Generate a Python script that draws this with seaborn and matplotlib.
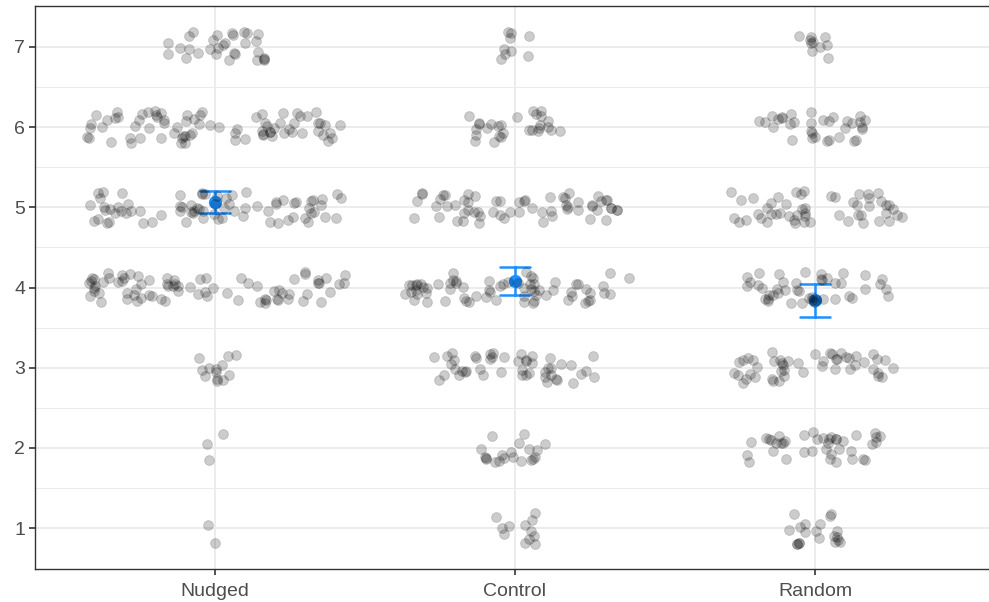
import numpy as np
import pandas as pd
import matplotlib
matplotlib.use("Agg")
import matplotlib.pyplot as plt
import seaborn as sns

# Response counts on the 1-7 scale, one list per condition (index 0 -> rating 1)
groups = ["Nudged", "Control", "Random"]
levels = [1, 2, 3, 4, 5, 6, 7]
nudged_counts = [2, 3, 13, 76, 75, 78, 30]
control_counts = [12, 20, 48, 68, 60, 28, 9]
random_counts = [20, 40, 48, 44, 52, 33, 10]

counts = {"Nudged": nudged_counts, "Control": control_counts, "Random": random_counts}

# One row per response
rows = []
for g in groups:
    for lv, n in zip(levels, counts[g]):
        rows += [(g, lv)] * n
df = pd.DataFrame(rows, columns=["group", "response"])

# Jitter for display only; horizontal spread grows with the cell size
rng = np.random.default_rng(11)
xpos, ypos = [], []
for gi, g in enumerate(groups):
    for lv, n in zip(levels, counts[g]):
        half_w = min(max(0.0057 * n, 0.03), 0.44)
        xpos.extend(gi + rng.uniform(-half_w, half_w, n))
        ypos.extend(lv + rng.uniform(-0.2, 0.2, n))
df["xpos"] = xpos
df["ypos"] = ypos

sns.set_style("white")
plt.rcParams["font.family"] = ["Liberation Sans", "DejaVu Sans"]

fig = plt.figure(figsize=(9.89, 6.02), dpi=100)
ax = fig.add_axes([35 / 989, 33 / 602, 960 / 989, 563 / 602])

# Mean with 95% interval (mean +/- 1.96 SE)
sns.pointplot(data=df, x="group", y="response", order=groups,
              errorbar=("se", 1.96), capsize=0.1, color="#1E90FF",
              linestyle="none", marker="o", markersize=7.5,
              err_kws={"linewidth": 1.8}, ax=ax, zorder=2)

# Individual responses
ax.scatter(df["xpos"], df["ypos"], s=50, facecolor=(0, 0, 0, 0.2),
           edgecolor=(0, 0, 0, 0.15), linewidth=0.7, zorder=3)

ax.set_xlim(-0.6, 2.6)
ax.set_ylim(0.49, 7.51)
ax.set_xticks(range(len(groups)))
ax.set_xticklabels(groups)
ax.set_yticks(levels)
ax.set_yticks(np.arange(1.5, 7.5, 1.0), minor=True)
ax.set_xlabel("")
ax.set_ylabel("")

ax.grid(False)
ax.grid(True, which="major", axis="both", color="#EBEBEB", linewidth=1.3, zorder=0)
ax.grid(True, which="minor", axis="y", color="#EBEBEB", linewidth=0.7, zorder=0)
ax.set_axisbelow(True)

for s in ax.spines.values():
    s.set_visible(True)
    s.set_color("#333333")
    s.set_linewidth(1.0)

ax.tick_params(axis="both", which="major", length=4, width=1.2, color="#333333",
               labelcolor="#4D4D4D", labelsize=14, pad=3,
               left=True, bottom=True)
ax.tick_params(axis="x", which="major", pad=6)
ax.tick_params(axis="y", which="minor", length=0)

fig.savefig("out.png", dpi=100)
